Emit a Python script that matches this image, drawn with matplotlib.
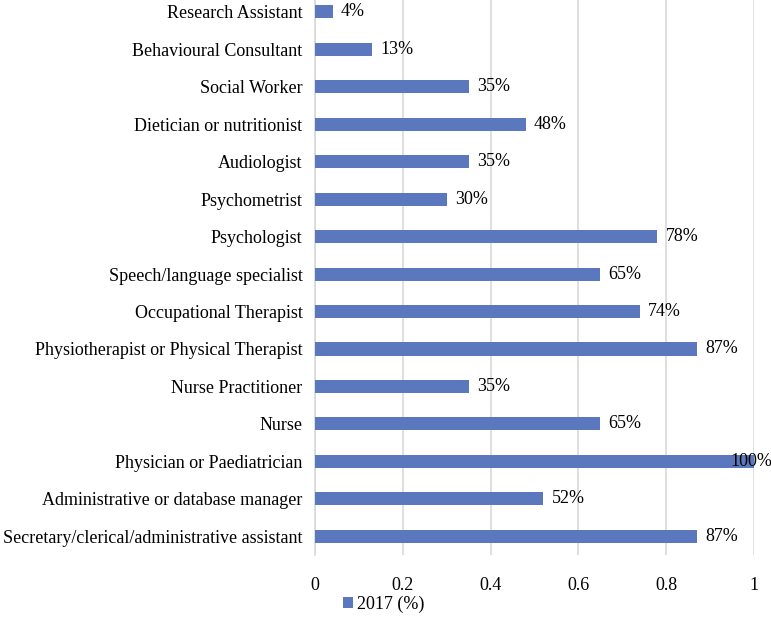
import numpy as np
import matplotlib.pyplot as plt

plt.rcParams['font.family'] = ['Liberation Serif', 'DejaVu Serif']

roles = ["Secretary/clerical/administrative assistant", "Administrative or database manager",
         "Physician or Paediatrician", "Nurse", "Nurse Practitioner",
         "Physiotherapist or Physical Therapist", "Occupational Therapist",
         "Speech/language specialist", "Psychologist", "Psychometrist", "Audiologist",
         "Dietician or nutritionist", "Social Worker", "Behavioural Consultant",
         "Research Assistant"]
pct = [87, 52, 100, 65, 35, 87, 74, 65, 78, 30, 35, 48, 35, 13, 4]
xticks = [0, 0.2, 0.4, 0.6, 0.8, 1]

fs = 13
fig = plt.figure(figsize=(7.71, 6.27), dpi=100)
ax = fig.add_axes([0.4086, 0.1148, 0.5694, 0.8962])

y = np.arange(len(roles))
vals = np.array(pct) / 100
bars = ax.barh(y, vals, height=0.35, color='#5B78BE', label='2017 (%)', zorder=3)

for yi, v, p in zip(y, vals, pct):
    off = -17 if p >= 100 else 6
    ax.annotate(f"{p}%", (v, yi), xytext=(off, 0), textcoords='offset points',
                va='center', ha='left', fontsize=fs, color='black', zorder=4)

ax.set_xlim(0, 1)
ax.set_ylim(-0.5, len(roles) - 0.5)
ax.set_yticks(y)
ax.set_yticklabels(roles, fontsize=fs)
ax.set_xticks(xticks)
ax.set_xticklabels([f"{t:g}" for t in xticks], fontsize=fs)
ax.tick_params(length=0, pad=9)
ax.tick_params(axis='x', pad=16)
ax.grid(axis='x', color='#D9D9D9', lw=1.2, zorder=0)
for s in ['top', 'right', 'bottom']:
    ax.spines[s].set_visible(False)
ax.spines['left'].set_color('#D9D9D9')
ax.spines['left'].set_linewidth(1.2)

fig.legend(handles=[bars], labels=['2017 (%)'], loc='center left',
           bbox_to_anchor=(0.424, 0.036), frameon=False, fontsize=fs,
           handlelength=0.55, handleheight=0.55, handletextpad=0.2)

fig.savefig('out.png', dpi=100)
